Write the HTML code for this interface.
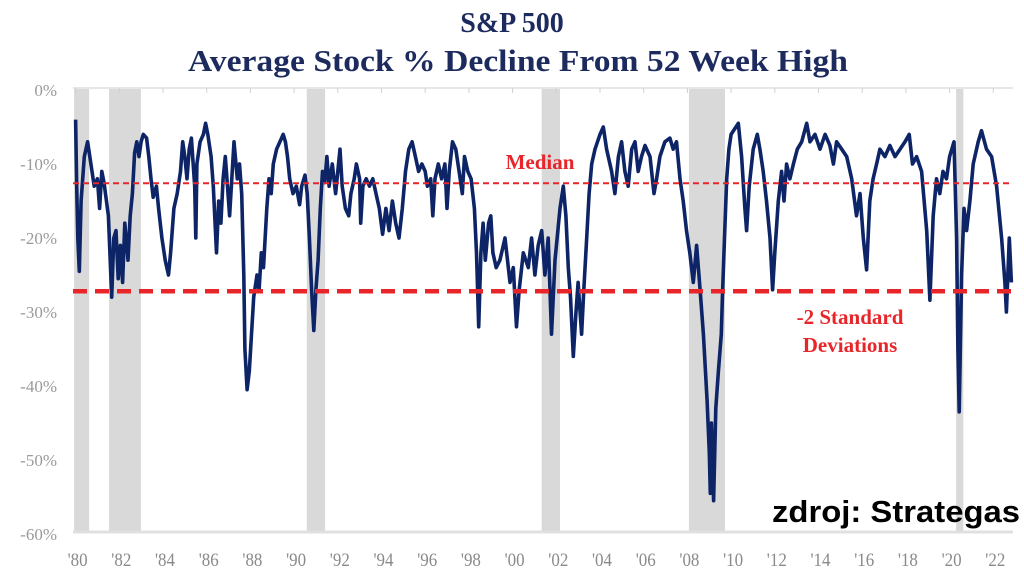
<!DOCTYPE html>
<html><head><meta charset="utf-8"><style>
html,body{margin:0;padding:0;background:#fff;}
body{width:1024px;height:576px;overflow:hidden;position:relative;font-family:"Liberation Serif",serif;}
svg{position:absolute;left:0;top:0;}
</style></head><body>
<svg id="chart" width="1024" height="576" viewBox="0 0 1024 576" xmlns="http://www.w3.org/2000/svg">
<text x="512" y="32" text-anchor="middle" font-family="Liberation Serif, serif" font-weight="bold" font-size="28" fill="#1c2a5e">S&amp;P 500</text>
<text x="518" y="71" text-anchor="middle" font-family="Liberation Serif, serif" font-weight="bold" font-size="31" fill="#1c2a5e" textLength="660" lengthAdjust="spacingAndGlyphs">Average Stock % Decline From 52 Week High</text>
<g id="bands"></g>
<g id="axes"></g>
<g id="series"></g>
<g id="refs"></g>
<text x="540" y="169" text-anchor="middle" font-weight="bold" font-size="21" fill="#e8262a">Median</text>
<text x="850" y="324" text-anchor="middle" font-weight="bold" font-size="21" fill="#e8262a">-2 Standard</text>
<text x="850" y="352" text-anchor="middle" font-weight="bold" font-size="21" fill="#e8262a">Deviations</text>
<text x="1020" y="522" text-anchor="end" font-family="Liberation Sans, sans-serif" font-weight="bold" font-size="31" fill="#000" textLength="248" lengthAdjust="spacingAndGlyphs">zdroj: Strategas</text>
</svg>
<script>
const years=[1980.0,1980.05,1980.1,1980.17,1980.25,1980.4,1980.55,1980.7,1980.85,1981.0,1981.1,1981.2,1981.3,1981.5,1981.65,1981.75,1981.85,1981.95,1982.05,1982.15,1982.25,1982.4,1982.5,1982.6,1982.7,1982.8,1982.9,1983.0,1983.1,1983.25,1983.35,1983.45,1983.55,1983.7,1983.8,1983.95,1984.1,1984.25,1984.35,1984.5,1984.65,1984.8,1984.9,1985.0,1985.1,1985.2,1985.3,1985.45,1985.5,1985.55,1985.7,1985.85,1985.95,1986.05,1986.2,1986.3,1986.45,1986.55,1986.65,1986.75,1986.85,1986.95,1987.05,1987.15,1987.25,1987.4,1987.5,1987.6,1987.7,1987.75,1987.85,1987.95,1988.05,1988.15,1988.3,1988.4,1988.5,1988.6,1988.75,1988.85,1988.95,1989.05,1989.2,1989.35,1989.5,1989.6,1989.7,1989.8,1989.95,1990.1,1990.25,1990.35,1990.5,1990.6,1990.7,1990.8,1990.9,1991.0,1991.1,1991.2,1991.3,1991.4,1991.5,1991.6,1991.75,1991.9,1992.0,1992.1,1992.2,1992.35,1992.5,1992.6,1992.75,1992.85,1993.0,1993.05,1993.15,1993.3,1993.45,1993.6,1993.75,1993.9,1994.05,1994.2,1994.35,1994.5,1994.65,1994.8,1994.95,1995.1,1995.25,1995.4,1995.55,1995.7,1995.85,1996.0,1996.1,1996.25,1996.35,1996.45,1996.6,1996.75,1996.9,1997.0,1997.1,1997.25,1997.4,1997.55,1997.7,1997.8,1997.95,1998.1,1998.25,1998.35,1998.45,1998.55,1998.65,1998.75,1998.9,1999.0,1999.1,1999.25,1999.42,1999.65,1999.88,2000.03,2000.18,2000.3,2000.49,2000.72,2000.87,2001.02,2001.17,2001.33,2001.48,2001.63,2001.78,2001.94,2002.17,2002.32,2002.44,2002.55,2002.65,2002.78,2002.9,2003.0,2003.16,2003.26,2003.39,2003.5,2003.62,2003.77,2004.0,2004.15,2004.3,2004.53,2004.68,2004.84,2004.99,2005.14,2005.29,2005.45,2005.6,2005.75,2005.9,2006.06,2006.29,2006.47,2006.59,2006.74,2006.97,2007.2,2007.35,2007.5,2007.66,2007.81,2007.96,2008.11,2008.27,2008.42,2008.58,2008.73,2008.9,2009.0,2009.05,2009.1,2009.2,2009.3,2009.42,2009.55,2009.6,2009.7,2009.8,2009.9,2010.0,2010.33,2010.48,2010.63,2010.71,2010.83,2011.01,2011.2,2011.32,2011.47,2011.62,2011.78,2011.9,2012.0,2012.16,2012.31,2012.42,2012.54,2012.69,2012.85,2013.03,2013.23,2013.46,2013.61,2013.84,2014.07,2014.3,2014.52,2014.68,2014.83,2015.06,2015.29,2015.52,2015.74,2015.9,2016.05,2016.2,2016.35,2016.5,2016.66,2016.81,2017.04,2017.27,2017.5,2017.73,2017.96,2018.15,2018.3,2018.49,2018.72,2018.95,2019.1,2019.25,2019.4,2019.55,2019.7,2019.86,2020.0,2020.2,2020.32,2020.38,2020.44,2020.55,2020.66,2020.78,2020.93,2021.08,2021.31,2021.46,2021.69,2021.92,2022.15,2022.38,2022.53,2022.6,2022.73,2022.83];
const declines=[-4,-13,-20,-24.5,-15,-9,-7,-10,-13,-12,-16,-11,-12.5,-17,-28,-20,-19,-25.5,-21,-26,-18,-23,-17,-14,-8.5,-7,-9,-7,-6,-6.5,-9,-12,-14.5,-13,-16,-20,-23,-25,-22,-16,-14,-11,-7,-9,-12,-8,-6.5,-13,-20,-10,-7,-6,-4.5,-6,-9,-13,-22,-15,-18,-12,-9,-13,-17,-12,-7,-12,-10,-14,-25,-35,-40.5,-38,-33,-28,-25,-27,-22,-24,-16,-12,-14,-10,-8,-7,-6,-7,-9,-12,-14,-13,-15.5,-13,-11.5,-14,-20,-27,-32.5,-27,-23,-16,-11,-12.5,-9,-13,-10,-14,-11,-8,-13,-16,-17,-14,-12,-10,-12,-18,-13,-12,-13,-12,-14,-16,-19.5,-16,-19,-15,-18,-20,-16,-11,-8,-7,-9,-11,-10,-11,-13,-12,-17,-12,-10,-12,-10,-16,-11,-7,-8,-11,-14,-9,-11,-12,-16,-22,-32,-22,-18,-23,-18,-17,-22,-24,-23,-20,-26,-24,-32,-27,-22,-24,-20,-25,-21,-19,-25,-20,-33,-23,-16,-13,-17,-24,-28,-36,-30,-26,-33,-27,-20,-14,-10,-8,-6,-5,-8,-11,-14,-9,-7,-11,-13,-8,-7,-11,-9,-7.5,-9,-14,-12,-9,-7,-6.5,-8,-7,-12,-15,-19,-22,-26,-21,-27,-33,-42,-49,-54.5,-45,-55.5,-43,-38,-33,-28,-20,-12,-8,-6,-4.5,-9,-16,-19,-13,-8,-6,-8,-11,-15,-20,-27,-22,-15,-11,-15,-10,-12,-10,-8,-7,-4.5,-7,-6,-8,-6,-7.5,-10,-7,-8,-9,-12,-17,-14,-20,-24.3,-15,-12,-10,-8,-9,-7.5,-9,-8,-7,-6,-10,-9,-11,-19,-28.4,-17,-12,-14,-11,-12,-9,-7,-20,-35,-43.5,-25,-16,-19,-15,-10,-7,-5.5,-8,-9,-13,-20,-26,-30,-20,-26];
const recessionStarts=[1979.93,1981.53,1990.58,2001.33,2008.07,2020.3];
const recessionEnds=[1980.62,1982.99,1991.42,2002.17,2009.72,2020.63];
const yTicks=[0,-10,-20,-30,-40,-50,-60];
const yTickLabels=['0%','-10%','-20%','-30%','-40%','-50%','-60%'];
const xTicks=[1980,1982,1984,1986,1988,1990,1992,1994,1996,1998,2000,2002,2004,2006,2008,2010,2012,2014,2016,2018,2020,2022];
const xTickLabels=["'80","'82","'84","'86","'88","'90","'92","'94","'96","'98","'00","'02","'04","'06","'08","'10","'12","'14","'16","'18","'20","'22"];
const medianValue=[-12.6];
const sdValue=[-27.2];

const NS='http://www.w3.org/2000/svg';
const X0=1980,X1=2022,PX0=75.6,PX1=993.3;
const Y0=0,Y1=-60,PY0=90,PY1=534;
const plotL=73,plotR=1013,plotT=88,plotB=532;
function xs(v){return PX0+(v-X0)*(PX1-PX0)/(X1-X0);}
function ys(v){return PY0+(v-Y0)*(PY1-PY0)/(Y1-Y0);}
function mk(tag,attrs,parent){const e=document.createElementNS(NS,tag);for(const k in attrs)e.setAttribute(k,attrs[k]);parent.appendChild(e);return e;}

const bandsG=document.getElementById('bands');
recessionStarts.forEach((s,i)=>{
  const r=mk('rect',{x:xs(s),y:plotT,width:xs(recessionEnds[i])-xs(s),height:plotB-plotT,fill:'#d9d9d9'},bandsG);
  
  
});

const axesG=document.getElementById('axes');
const topBorder=mk('line',{x1:plotL,x2:plotR,y1:plotT,y2:plotT,stroke:'#e6e6e6','stroke-width':2},axesG);


const baseLine=mk('line',{x1:plotL,x2:plotR,y1:plotB,y2:plotB,stroke:'#e0e0e0','stroke-width':3},axesG);


yTicks.forEach((v,i)=>{
  const t=mk('text',{x:57,y:ys(v)+6,'text-anchor':'end','font-size':17,fill:'#9a9a9a','font-family':'Liberation Serif, serif'},axesG);
  t.textContent=yTickLabels[i];
  
  
});
xTicks.forEach((v,i)=>{
  const tk=mk('line',{x1:xs(v),x2:xs(v),y1:plotT,y2:plotT+5,stroke:'#d0d0d0','stroke-width':1},axesG);
  
  
  const t=mk('text',{x:xs(v)+2,y:566,'text-anchor':'middle','font-size':19,fill:'#8a8a8a','font-family':'Liberation Serif, serif',textLength:20,lengthAdjust:'spacingAndGlyphs'},axesG);
  t.textContent=xTickLabels[i];
  
  
});

const seriesG=document.getElementById('series');
const pathD=years.map((y,i)=>(i?'L':'M')+xs(y).toFixed(1)+','+ys(declines[i]).toFixed(1)).join(' ');
const linePath=mk('path',{d:pathD,fill:'none',stroke:'#0d2466','stroke-width':3.6,'stroke-linejoin':'round'},seriesG);



const refsG=document.getElementById('refs');
const medLine=mk('line',{x1:plotL,x2:plotR,y1:ys(medianValue[0]),y2:ys(medianValue[0]),stroke:'#e8262a','stroke-width':2,'stroke-dasharray':'6,4'},refsG);


const sdLine=mk('line',{x1:plotL,x2:plotR,y1:ys(sdValue[0]),y2:ys(sdValue[0]),stroke:'#e8262a','stroke-width':4.5,'stroke-dasharray':'14,8'},refsG);


</script>
</body></html>
